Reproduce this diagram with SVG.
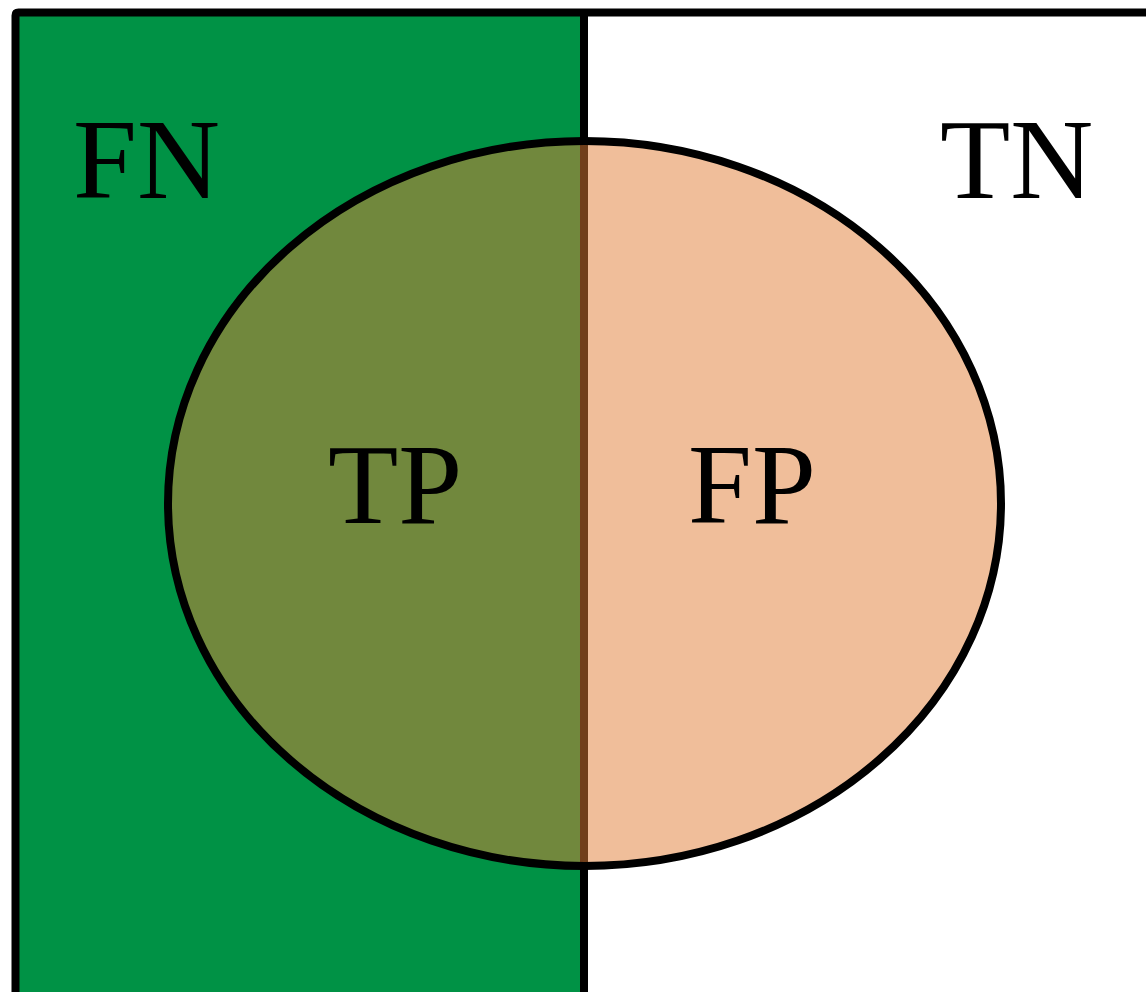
<svg xmlns="http://www.w3.org/2000/svg" width="1146" height="992" viewBox="0 0 1146 992">
<style>
.lbl{font-family:"Liberation Serif","Times New Roman",serif;font-size:115px;fill:#000}
.edge{stroke:#000;stroke-width:8;fill:none}
</style>
<rect width="1146" height="992" fill="#fff"/>
<g id="negatives">
<rect x="15.5" y="12.5" width="568.5" height="990" fill="#009245"/>
<path class="edge" d="M15.5 1000 V15.5 Q15.5 12.5 18.5 12.5 H1160" stroke-linejoin="round"/>
<line class="edge" x1="584" y1="12.5" x2="584" y2="1000"/>
</g>
<g id="predicted">
<ellipse cx="584.5" cy="503.5" rx="416.5" ry="362.5" fill="#e17d35" fill-opacity="0.5"/>
<ellipse class="edge" cx="584.5" cy="503.5" rx="416.5" ry="362.5"/>
</g>
<g id="labels">
<text class="lbl" x="73" y="198">FN</text>
<text class="lbl" x="940" y="198">TN</text>
<text class="lbl" x="328" y="523">TP</text>
<text class="lbl" x="688" y="523">FP</text>
</g>
</svg>
